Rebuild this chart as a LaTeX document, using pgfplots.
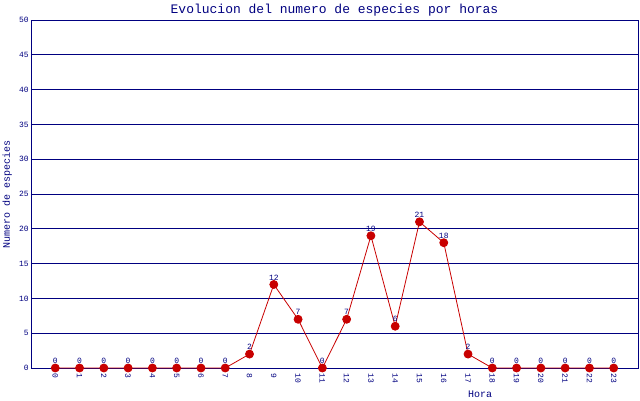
\documentclass[border=0pt]{standalone}
\usepackage{fontspec}
\setmainfont{Liberation Mono}
\usepackage{pgfplots}
\pgfplotsset{compat=1.18}
\definecolor{navy}{RGB}{0,0,128}
\definecolor{dred}{RGB}{200,0,0}
\begin{document}
\begin{tikzpicture}[x=1pt,y=1pt]
\useasboundingbox (0,0) rectangle (640,400);
\begin{axis}[at={(31pt,32pt)}, anchor=south west, scale only axis,
  width=607pt, height=348pt,
  xmin=-1, xmax=24, ymin=0, ymax=50,
  xtick={0,...,23}, ytick={0,5,...,50},
  ymajorgrids, grid style={navy, line width=0.8pt},
  axis line style={navy, line width=0.8pt},
  major tick length=0pt,
  clip=false,
  /pgf/number format/assume math mode=true,
  tick label style={font=\fontsize{8}{8}\selectfont, text=navy},
  x tick label style={rotate=-90, anchor=west, inner xsep=5pt},
  y tick label style={inner sep=2pt},
  title={Evolucion del numero de especies por horas},
  title style={font=\fontsize{13}{13}\selectfont, text=navy, yshift=-6pt},
  ylabel={Numero de especies},
  ylabel style={font=\fontsize{10}{10}\selectfont, text=navy, at={(axis description cs:-0.031,0.5)}, anchor=south, inner sep=0pt},
  xlabel={Hora},
  xlabel style={font=\fontsize{10}{10}\selectfont, text=navy, at={(axis description cs:0.74,-0.075)}, anchor=center, inner sep=0pt},
  nodes near coords,
  nodes near coords style={font=\fontsize{8}{8}\selectfont, text=navy, anchor=south, inner sep=0pt, yshift=4pt},
]
\addplot[color=dred, line width=0.8pt, mark=*, mark size=4pt, mark options={fill=dred, draw=dred}] coordinates {
(0,0) (1,0) (2,0) (3,0) (4,0) (5,0) (6,0) (7,0) (8,2) (9,12) (10,7) (11,0)
(12,7) (13,19) (14,6) (15,21) (16,18) (17,2) (18,0) (19,0) (20,0) (21,0) (22,0) (23,0)
};
\end{axis}
\end{tikzpicture}
\end{document}
